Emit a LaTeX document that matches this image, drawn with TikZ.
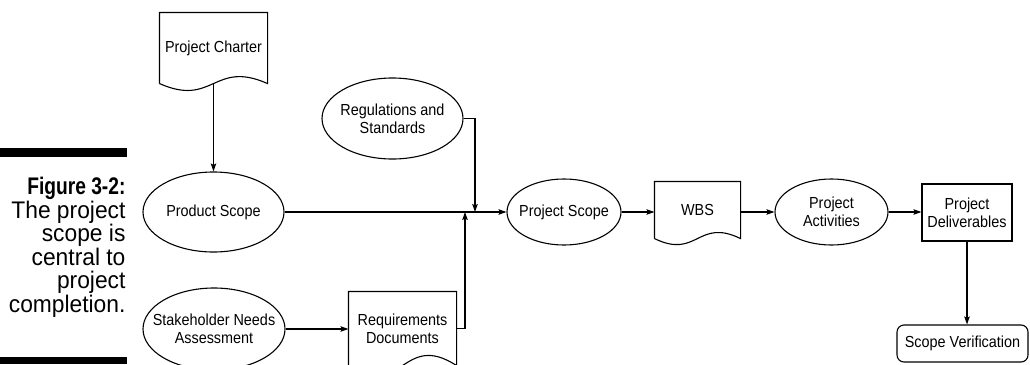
\documentclass[tikz,border=0pt]{standalone}
\usepackage{fontspec}
\setmainfont{Liberation Sans}
\newfontfamily\nf{Liberation Sans}[FakeStretch=0.9]
\newfontfamily\cf{Liberation Sans}[FakeStretch=0.95]
\newfontfamily\cbf{Liberation Sans}[FakeStretch=0.8]
\usetikzlibrary{arrows.meta,shapes.geometric,calc}
\newcommand\docpath[2]{%
  \draw (#1.south west) -- (#1.north west) -- (#1.north east) -- (#1.south east)
    .. controls ($(#1.south)+(0,-#2)$) and ($(#1.south)+(0,#2)$) .. (#1.south west);}
\begin{document}
\begin{tikzpicture}[x=1pt,y=-1pt,
  line width=1.1pt, >={Stealth[length=8pt,width=5.5pt,inset=1.5pt]},
  every node/.style={font=\nf\fontsize{16}{18}\selectfont, align=center, inner sep=0pt},
  ell/.style={draw, ellipse},
  doc/.style={rectangle},
  box/.style={draw, rectangle},
  captxt/.style={anchor=base east, font=\cf\fontsize{24}{24}\selectfont}]
\useasboundingbox (0,0) rectangle (1030,364);
\clip (0,0) rectangle (1030,364);
% caption
\fill (0,148) rectangle (127,157);
\fill (0,357) rectangle (127,364);
\node[captxt, font=\cbf\bfseries\fontsize{24}{24}\selectfont] (c0) at (126,194.5) {Figure 3-2:};
\node[captxt] (c1) at (126,218) {The project};
\node[captxt] (c2) at (126,241.5) {scope is};
\node[captxt] (c3) at (126,265) {central to};
\node[captxt] (c4) at (126,288.5) {project};
\node[captxt] (c5) at (126,312) {completion.};
% nodes
\node[doc, minimum width=107pt, minimum height=70pt] (pc) at (213.5,48) {Project Charter};
\docpath{pc}{24}
\node[ell, minimum width=141pt, minimum height=80pt, label=center:Product Scope] (prs) at (213.5,212) {};
\node[ell, minimum width=141pt, minimum height=81pt, label={center:{Regulations and\\Standards}}] (reg) at (392.5,118.5) {};
\node[ell, minimum width=142pt, minimum height=82pt, label={center:{Stakeholder Needs\\Assessment}}] (sn) at (214,329) {};
\node[doc, minimum width=107pt, minimum height=73pt] (rd) at (402.5,328.5) {Requirements\\Documents};
\docpath{rd}{35}
\node[ell, minimum width=114pt, minimum height=66pt, label=center:Project Scope] (ps) at (564,212) {};
\node[doc, minimum width=85pt, minimum height=56pt] (wbs) at (697.5,210) {WBS};
\docpath{wbs}{21}
\node[ell, minimum width=113pt, minimum height=66pt, label={center:{Project\\Activities}}] (pa) at (831.5,212) {};
\node[box, minimum width=90pt, minimum height=57pt] (pd) at (967,212.5) {Project\\Deliverables};
\node[box, rounded corners=7pt, minimum width=131pt, minimum height=37pt] (sv) at (962.5,343.5) {Scope Verification};
% connectors
\coordinate (j1) at (475,212);
\coordinate (j2) at (465,212);
\draw[->] (pc.south) -- (prs.north);
\draw[->] (prs.east) -- (ps.west);
\draw[->] (reg.east) -| (j1);
\draw[->] (rd.east) -| (j2);
\draw[->] (sn.east) -- (sn.east -| rd.west);
\draw[->] (ps.east) -- (ps.east -| wbs.west);
\draw[->] (ps.east -| wbs.east) -- (pa.west);
\draw[->] (pa.east) -- (pa.east -| pd.west);
\draw[->] (pd.south) -- (pd.south |- sv.north);
\end{tikzpicture}
\end{document}
